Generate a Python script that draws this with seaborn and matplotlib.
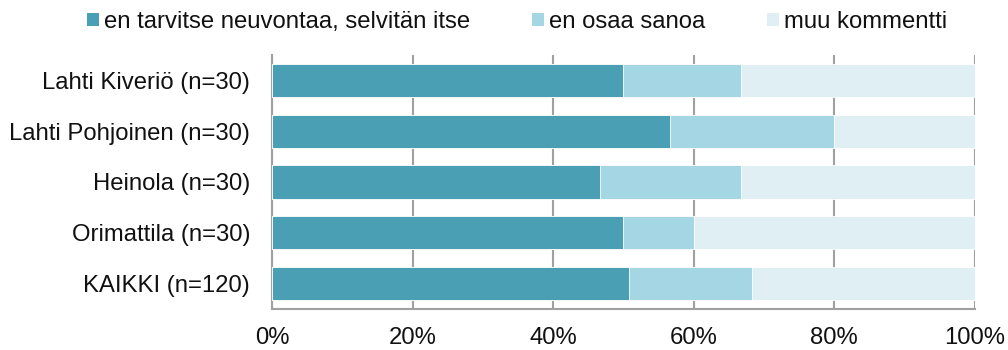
import matplotlib
matplotlib.use("Agg")
import matplotlib.pyplot as plt
from matplotlib.patches import Patch
import seaborn as sns
import pandas as pd

# Share of answers per location (percent)
locations = ["Lahti Kiveriö (n=30)", "Lahti Pohjoinen (n=30)", "Heinola (n=30)",
             "Orimattila (n=30)", "KAIKKI (n=120)"]
self_service = [50.0, 56.7, 46.7, 50.0, 50.8]
cant_say = [16.7, 23.3, 20.0, 10.0, 17.5]
other_comment = [33.3, 20.0, 33.3, 40.0, 31.7]
series_names = ["en tarvitse neuvontaa, selvitän itse", "en osaa sanoa", "muu kommentti"]
x_tick_labels = ["0%", "20%", "40%", "60%", "80%", "100%"]

colors = ["#4A9FB5", "#A4D6E4", "#E0EFF4"]
text_size = 17.2
text_color = "#111111"

sns.set_theme(style="white")
plt.rcParams["font.family"] = ["Liberation Sans", "DejaVu Sans"]
plt.rcParams["text.color"] = text_color

df = pd.DataFrame({
    "location": locations,
    "s1": self_service,
    "s2": cant_say,
    "s3": other_comment,
})
df["c1"] = df["s1"]
df["c2"] = df["s1"] + df["s2"]
df["c3"] = df["s1"] + df["s2"] + df["s3"]

fig = plt.figure(figsize=(10.08, 3.5), dpi=100)
ax = fig.add_axes([0.2698, 0.117, 0.967 - 0.2698, 0.843 - 0.117])

# Stacked bars: draw cumulative totals back to front
for col, color in zip(["c3", "c2", "c1"], colors[::-1]):
    sns.barplot(data=df, x=col, y="location", orient="h", color=color,
                width=0.65, saturation=1, edgecolor="white", linewidth=0.6,
                ax=ax, zorder=3)

ax.set_xlim(0, 100)
ax.set_ylim(4.5, -0.5)
ax.set_xticks([0, 20, 40, 60, 80, 100])
ax.set_xticklabels(x_tick_labels, fontsize=text_size, color=text_color)
ax.tick_params(axis="y", labelsize=text_size, labelcolor=text_color, length=0, pad=15.8)
ax.tick_params(axis="x", length=0, pad=13)
ax.set_xlabel("")
ax.set_ylabel("")

ax.grid(axis="x", color="#A0A0A0", linewidth=1.5, zorder=0)
ax.set_axisbelow(True)
for side in ["top", "right"]:
    ax.spines[side].set_visible(False)
for side in ["left", "bottom"]:
    ax.spines[side].set_color("#A0A0A0")
    ax.spines[side].set_linewidth(1.5)

handles = [Patch(facecolor=c, edgecolor="none") for c in colors]
fig.legend(handles, series_names, loc="center", bbox_to_anchor=(0.513, 0.937),
           ncol=3, frameon=False, fontsize=text_size, handlelength=0.5,
           handleheight=0.5, handletextpad=0.2, columnspacing=2.6,
           borderpad=0, borderaxespad=0, labelcolor=text_color)

fig.savefig("out.png", dpi=100)
